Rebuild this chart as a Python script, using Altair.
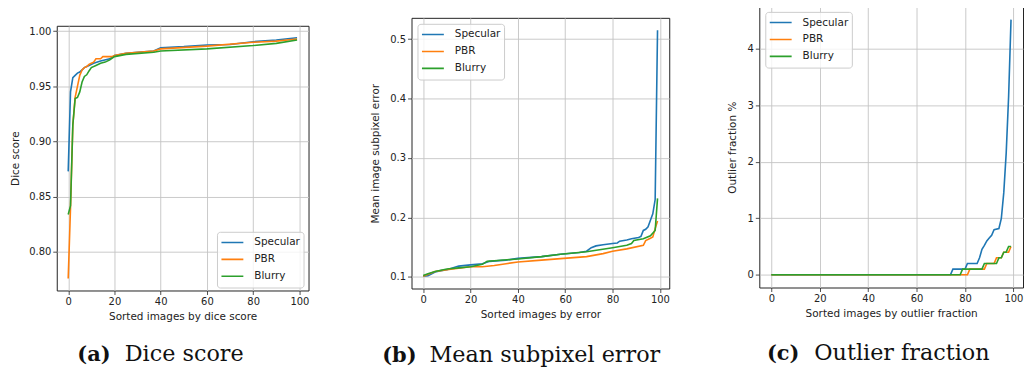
import altair as alt
import pandas as pd

SERIES = ["Specular", "PBR", "Blurry"]
COLORS = ["#1f77b4", "#ff7f0e", "#2ca02c"]
X_TICKS = [0, 20, 40, 60, 80, 100]

# (a) Dice score
DICE_SPEC_X = [0, 1, 2, 3, 4, 5, 7, 9, 11, 14, 18, 20, 25, 30, 37, 40, 50, 60, 70, 80, 90, 99]
DICE_SPEC_Y = [0.873, 0.945, 0.958, 0.960, 0.962, 0.963, 0.967, 0.969, 0.971, 0.973, 0.975, 0.978,
               0.980, 0.981, 0.982, 0.985, 0.986, 0.9875, 0.988, 0.9905, 0.992, 0.994]
DICE_PBR_X = [0, 1, 2, 3, 4, 5, 6, 7, 8, 9, 10, 11, 12, 14, 15, 19, 20, 25, 37, 40, 60, 80, 90, 99]
DICE_PBR_Y = [0.776, 0.840, 0.915, 0.940, 0.950, 0.960, 0.965, 0.967, 0.968, 0.970, 0.971, 0.972,
              0.975, 0.975, 0.977, 0.977, 0.978, 0.980, 0.982, 0.984, 0.9865, 0.990, 0.991, 0.993]
DICE_BLUR_X = [0, 1, 2, 3, 4, 5, 6, 7, 8, 9, 10, 12, 14, 16, 18, 20, 25, 37, 40, 60, 80, 90, 99]
DICE_BLUR_Y = [0.834, 0.842, 0.915, 0.939, 0.940, 0.945, 0.954, 0.959, 0.9605, 0.964, 0.967, 0.969,
               0.971, 0.972, 0.974, 0.977, 0.979, 0.981, 0.982, 0.984, 0.987, 0.989, 0.992]

# (b) Mean subpixel error
ERR_SPEC_X = [0, 2, 3, 5, 7, 10, 15, 20, 25, 28, 35, 40, 50, 58, 66, 69, 71, 73, 76, 80, 82, 83,
              86, 88, 91, 92, 93, 94, 95, 96, 97, 98, 99]
ERR_SPEC_Y = [0.101, 0.102, 0.104, 0.108, 0.110, 0.112, 0.118, 0.120, 0.122, 0.126, 0.128, 0.131,
              0.134, 0.138, 0.141, 0.143, 0.149, 0.152, 0.154, 0.156, 0.157, 0.160, 0.162, 0.164,
              0.166, 0.168, 0.178, 0.180, 0.184, 0.195, 0.206, 0.230, 0.515]
ERR_PBR_X = [0, 5, 10, 20, 25, 30, 35, 40, 50, 58, 69, 76, 80, 86, 93, 94, 96, 97, 98, 99]
ERR_PBR_Y = [0.101, 0.109, 0.112, 0.117, 0.117, 0.119, 0.122, 0.125, 0.128, 0.1306, 0.134, 0.139,
             0.143, 0.147, 0.153, 0.161, 0.165, 0.167, 0.181, 0.194]
ERR_BLUR_X = [0, 2, 5, 10, 15, 20, 25, 27, 30, 40, 50, 58, 69, 80, 86, 88, 89, 93, 96, 98, 99]
ERR_BLUR_Y = [0.102, 0.105, 0.109, 0.113, 0.115, 0.117, 0.121, 0.126, 0.127, 0.130, 0.134, 0.138,
              0.142, 0.149, 0.153, 0.156, 0.161, 0.164, 0.169, 0.178, 0.232]

# (c) Outlier fraction
OUT_SPEC_X = [0, 74, 75, 80, 81, 85, 86, 87, 88, 89, 90, 91, 92, 94, 95, 96, 97, 98, 99]
OUT_SPEC_Y = [0, 0, 0.1, 0.1, 0.2, 0.2, 0.3, 0.45, 0.52, 0.6, 0.65, 0.7, 0.8, 0.82, 1.0, 1.45,
              2.15, 3.15, 4.52]
OUT_PBR_X = [0, 81, 82, 88, 89, 92, 93, 95, 96, 98, 99]
OUT_PBR_Y = [0, 0, 0.1, 0.1, 0.2, 0.2, 0.3, 0.3, 0.4, 0.4, 0.5]
OUT_BLUR_X = [0, 78, 79, 87, 88, 93, 94, 95, 96, 97, 98, 99]
OUT_BLUR_Y = [0, 0, 0.1, 0.1, 0.2, 0.2, 0.3, 0.3, 0.4, 0.4, 0.5, 0.5]


def frame(triples):
    rows = []
    for name, xs, ys in triples:
        for x, y in zip(xs, ys):
            rows.append({"i": x, "v": y, "series": name})
    return pd.DataFrame(rows)


def padded(lo, hi, frac=0.05):
    d = (hi - lo) * frac
    return [lo - d, hi + d]


ONE = pd.DataFrame({"k": [0]})


def panel(df, xtitle, ytitle, yticks, yfmt, w, h, leg_xy, tag, cap, tag_x, cap_x, cap_y,
          ytp, left_sp):
    lines = alt.Chart(df).mark_line(strokeWidth=1.6).encode(
        x=alt.X("i:Q",
                scale=alt.Scale(domain=[-4.95, 103.95], nice=False, zero=False),
                axis=alt.Axis(values=X_TICKS, format="d", title=xtitle)),
        y=alt.Y("v:Q",
                scale=alt.Scale(domain=padded(df.v.min(), df.v.max()), nice=False, zero=False),
                axis=alt.Axis(values=yticks, format=yfmt, title=ytitle, titlePadding=ytp)),
        color=alt.Color("series:N",
                        scale=alt.Scale(domain=SERIES, range=COLORS),
                        legend=alt.Legend(title=None, orient="none",
                                          legendX=leg_xy[0], legendY=leg_xy[1])),
    )
    tag_m = alt.Chart(ONE).mark_text(
        text=tag, font="DejaVu Serif", fontSize=21, fontWeight="bold",
        align="left", baseline="alphabetic", color="#111"
    ).encode(x=alt.value(tag_x), y=alt.value(cap_y))
    cap_m = alt.Chart(ONE).mark_text(
        text=cap, font="DejaVu Serif", fontSize=22.4, fontWeight="normal",
        align="left", baseline="alphabetic", color="#111"
    ).encode(x=alt.value(cap_x), y=alt.value(cap_y))
    spacer = alt.Chart(ONE).mark_rule(strokeOpacity=0, strokeWidth=0.01).encode(
        x=alt.value(left_sp), x2=alt.value(left_sp + 1), y=alt.value(h / 2)
    )
    return alt.layer(lines, tag_m, cap_m, spacer).properties(
        width=w, height=h, view=alt.ViewBackground(stroke="#222", strokeWidth=1))


def top_gap(hs):
    return alt.Chart(ONE).mark_rule(strokeOpacity=0, strokeWidth=0.01).encode(
        x=alt.value(0), x2=alt.value(1), y=alt.value(hs / 2)
    ).properties(width=1, height=hs, view=alt.ViewBackground(stroke="transparent"))


def stack(hs, p):
    return alt.vconcat(top_gap(hs), p, spacing=0).resolve_scale(
        color="independent").resolve_legend(color="independent")


p1 = panel(frame([("Specular", DICE_SPEC_X, DICE_SPEC_Y),
                  ("PBR", DICE_PBR_X, DICE_PBR_Y),
                  ("Blurry", DICE_BLUR_X, DICE_BLUR_Y)]),
           "Sorted images by dice score", "Dice score",
           [0.80, 0.85, 0.90, 0.95, 1.00], ".2f", 253, 266, (161, 207),
           "(a)", "Dice score", 20.7, 68.3, 337.2, 8, -48)

p2 = panel(frame([("Specular", ERR_SPEC_X, ERR_SPEC_Y),
                  ("PBR", ERR_PBR_X, ERR_PBR_Y),
                  ("Blurry", ERR_BLUR_X, ERR_BLUR_Y)]),
           "Sorted images by error", "Mean image subpixel error",
           [0.1, 0.2, 0.3, 0.4, 0.5], ".1f", 259, 272, (6, 6),
           "(b)", "Mean subpixel error", -29.5, 18.1, 345.4, 9, -46.5)

p3 = panel(frame([("Specular", OUT_SPEC_X, OUT_SPEC_Y),
                  ("PBR", OUT_PBR_X, OUT_PBR_Y),
                  ("Blurry", OUT_BLUR_X, OUT_BLUR_Y)]),
           "Sorted images by outlier fraction", "Outlier fraction %",
           [0, 1, 2, 3, 4], "d", 265, 282, (6, 5),
           "(c)", "Outlier fraction", 7.7, 55.3, 355.2, 9.5, -33)

chart = alt.hconcat(
    stack(17.5, p1), stack(9, p2), p3, spacing=55.5,
    padding={"left": 0, "top": -3, "right": 0, "bottom": 0}
).resolve_scale(
    x="independent", y="independent", color="independent"
).resolve_legend(color="independent").configure_view(
    stroke="#222", strokeWidth=1
).configure_axis(
    labelFont="DejaVu Sans", labelFontSize=10, labelColor="#222",
    titleFont="DejaVu Sans", titleFontSize=10.5, titleFontWeight="normal", titleColor="#222",
    tickColor="#222", tickSize=4, tickWidth=0.8, labelPadding=2,
    grid=True, gridColor="#c4c4c4", gridWidth=0.9, domain=False,
    labelFlush=False, labelOverlap=False
).configure_axisX(titlePadding=5).configure_legend(
    symbolType="stroke", symbolSize=484, symbolStrokeWidth=1.6,
    labelFont="DejaVu Sans", labelFontSize=10.5, labelColor="#222",
    padding=3.5, strokeColor="#cccccc", fillColor="rgba(255,255,255,0.8)",
    cornerRadius=3, rowPadding=2, clipHeight=14.5, labelOffset=10
)

chart.save("out.html", embed_options={"renderer": "svg", "actions": False})
